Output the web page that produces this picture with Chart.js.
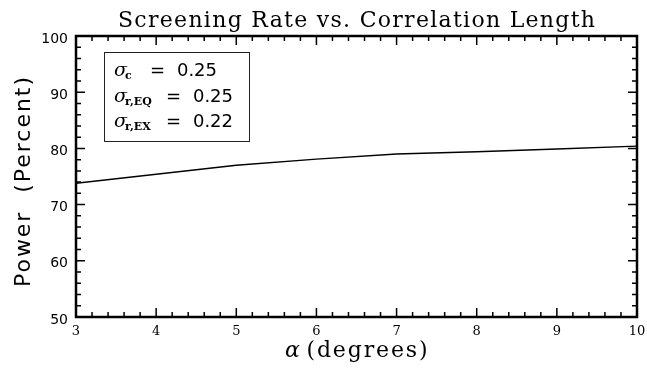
<!DOCTYPE html>
<html lang="en">
<head>
  <meta charset="UTF-8" />
  <title>Screening Rate vs. Correlation Length</title>
  <script src="https://cdn.jsdelivr.net/npm/chart.js"></script>
  <style>
    body { margin: 0; background: #fff; }
    #wrap { width: 647px; height: 369px; position: relative; }
  </style>
</head>
<body>
  <div id="wrap"><canvas id="powerChart"></canvas></div>

  <script>
    // values
    const alphaDeg = [3, 4, 5, 6, 7, 8, 9, 10];
    const powerPct = [73.8, 75.4, 77.0, 78.1, 79.0, 79.4, 79.9, 80.4];
    const xTicks = [3, 4, 5, 6, 7, 8, 9, 10];
    const yTicks = [50, 60, 70, 80, 90, 100];
    const legendLines = [
      { sub: 'c', value: '0.25' },
      { sub: 'r,EQ', value: '0.25' },
      { sub: 'r,EX', value: '0.22' }
    ];

    const SERIF = '"DejaVu Serif", "Liberation Serif", serif';
    const SANS = '"DejaVu Sans", "Liberation Sans", sans-serif';

    // draw text stretched/squeezed to a target width via letter spacing
    function spaced(ctx, text, cx, y, width) {
      ctx.letterSpacing = '0px';
      const w = ctx.measureText(text).width;
      const ls = (width - w) / (text.length - 1);
      ctx.letterSpacing = ls + 'px';
      ctx.textAlign = 'left';
      ctx.fillText(text, cx - width / 2, y);
      ctx.letterSpacing = '0px';
    }

    // frame + inward ticks on all four sides, titles and the sigma box
    const framePlugin = {
      id: 'framePlugin',
      afterDraw(chart) {
        const { ctx, chartArea: a, scales: { x, y } } = chart;
        ctx.save();
        ctx.strokeStyle = '#000';
        ctx.lineWidth = 2.5;
        ctx.strokeRect(a.left, a.top, a.right - a.left, a.bottom - a.top);

        ctx.lineWidth = 1.5;
        ctx.beginPath();
        const xn = (xTicks[xTicks.length - 1] - xTicks[0]) * 5;
        for (let i = 0; i <= xn; i++) {
          const px = x.getPixelForValue(xTicks[0] + i / 5);
          const len = i % 5 === 0 ? 9 : 5;
          ctx.moveTo(px, a.bottom); ctx.lineTo(px, a.bottom - len);
          ctx.moveTo(px, a.top); ctx.lineTo(px, a.top + len);
        }
        const yn = (yTicks[yTicks.length - 1] - yTicks[0]) / 2;
        for (let i = 0; i <= yn; i++) {
          const py = y.getPixelForValue(yTicks[0] + i * 2);
          const len = i % 5 === 0 ? 9 : 5;
          ctx.moveTo(a.left, py); ctx.lineTo(a.left + len, py);
          ctx.moveTo(a.right, py); ctx.lineTo(a.right - len, py);
        }
        ctx.stroke();

        ctx.fillStyle = '#000';
        ctx.textBaseline = 'alphabetic';
        const cx = (a.left + a.right) / 2;

        // chart title
        ctx.font = '22px ' + SERIF;
        spaced(ctx, 'Screening Rate vs. Correlation Length', cx, 27, 477);

        // x axis title
        ctx.font = 'italic 22px ' + SERIF;
        ctx.textAlign = 'left';
        ctx.fillText('\u03b1', 285, 357);
        ctx.font = '22px ' + SERIF;
        spaced(ctx, '(degrees)', 367, 357, 121);

        // y axis title
        ctx.save();
        ctx.translate(30, 182);
        ctx.rotate(-Math.PI / 2);
        ctx.font = '22px ' + SANS;
        spaced(ctx, 'Power  (Percent)', 0, 0, 210);
        ctx.restore();

        // sigma box
        ctx.lineWidth = 1;
        ctx.strokeStyle = '#222';
        ctx.strokeRect(104.5, 52.5, 145, 89);
        const rows = [76, 102, 127];
        legendLines.forEach((l, i) => {
          const base = rows[i];
          ctx.textAlign = 'left';
          ctx.font = 'italic 19px ' + SERIF;
          ctx.fillText('\u03c3', 114, base);
          ctx.font = 'bold 11px ' + SERIF;
          ctx.fillText(l.sub, 125, base + 3);
          const eqX = i === 0 ? 150 : 166;
          ctx.font = '18px ' + SANS;
          ctx.fillText('=', eqX, base);
          spaced(ctx, l.value, eqX + 47, base, 40);
        });
        ctx.restore();
      }
    };

    const ctx = document.getElementById('powerChart').getContext('2d');
    new Chart(ctx, {
      type: 'line',
      data: {
        datasets: [{
          data: alphaDeg.map((a, i) => ({ x: a, y: powerPct[i] })),
          borderColor: '#000',
          borderWidth: 1.4,
          pointRadius: 0,
          tension: 0,
          fill: false
        }]
      },
      options: {
        responsive: true,
        maintainAspectRatio: false,
        animation: false,
        layout: { padding: { top: 36, right: 10, left: 0, bottom: 0 } },
        plugins: { legend: { display: false }, title: { display: false }, tooltip: { enabled: false } },
        scales: {
          x: {
            type: 'linear',
            min: 3, max: 10,
            afterFit: s => { s.height = 52; s.paddingLeft = 0; s.paddingRight = 0; },
            afterBuildTicks: s => { s.ticks = xTicks.map(v => ({ value: v })); },
            grid: { display: false, drawTicks: false },
            border: { display: false },
            ticks: { font: { family: SERIF, size: 13 }, color: '#000', padding: 7, maxRotation: 0 }
          },
          y: {
            min: 50, max: 100,
            afterFit: s => { s.width = 76; s.paddingTop = 0; s.paddingBottom = 0; },
            afterBuildTicks: s => { s.ticks = yTicks.map(v => ({ value: v })); },
            grid: { display: false, drawTicks: false },
            border: { display: false },
            ticks: { font: { family: SANS, size: 14 }, color: '#000', padding: 8, labelOffset: 3 }
          }
        }
      },
      plugins: [framePlugin]
    });
  </script>
</body>
</html>
